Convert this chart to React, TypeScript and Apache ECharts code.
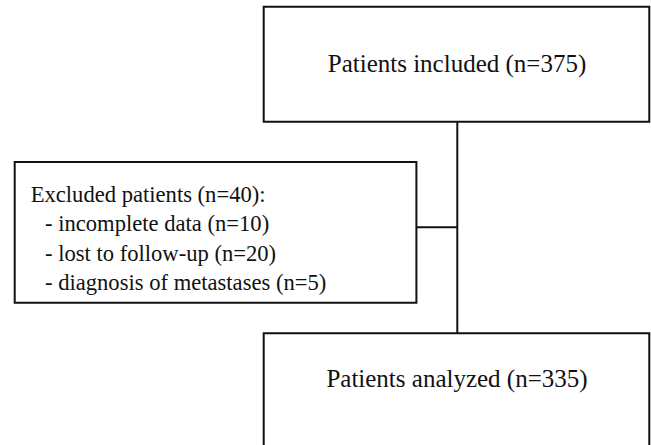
import React, { useEffect, useRef } from "react";
import * as echarts from "echarts";

// ---- data ----
const stageLabels = ["Patients included", "Patients analyzed"];
const stageCounts = [375, 335];
const excludedLabel = "Excluded patients";
const excludedCount = 40;
const exclusionReasons = ["incomplete data", "lost to follow-up", "diagnosis of metastases"];
const exclusionCounts = [10, 20, 5];

// ---- layout / style ----
const W = 651;
const H = 445;
const FONT = "Liberation Serif, Times New Roman, Times, serif";
const INK = "#111111";

export default function App() {
  const ref = useRef<HTMLDivElement>(null);

  useEffect(() => {
    const chart = echarts.init(ref.current!, null, { renderer: "svg", width: W, height: H });
    const boxStyle = { stroke: INK, lineWidth: 2, fill: "#ffffff" };
    const lineStyle = { stroke: INK, lineWidth: 2 };

    const stageText = stageLabels.map((l, i) => `${l} (n=${stageCounts[i]})`);
    const excludedLines = [
      `${excludedLabel} (n=${excludedCount}):`,
      ...exclusionReasons.map((r, i) => `- ${r} (n=${exclusionCounts[i]})`),
    ];
    const lineCenters = [194, 223.5, 253, 282.5];

    const graphic: any[] = [
      { type: "rect", shape: { x: 0, y: 0, width: W, height: H }, style: { fill: "#ffffff" }, z: 0 },
      // connectors
      { type: "line", shape: { x1: 457.3, y1: 122, x2: 457.3, y2: 333 }, style: lineStyle, z: 1 },
      { type: "line", shape: { x1: 416, y1: 227.3, x2: 457.3, y2: 227.3 }, style: lineStyle, z: 1 },
      // boxes
      { type: "rect", shape: { x: 263.7, y: 6.7, width: 385.6, height: 115 }, style: boxStyle, z: 2 },
      { type: "rect", shape: { x: 14.7, y: 162, width: 401.7, height: 140.7 }, style: boxStyle, z: 2 },
      { type: "rect", shape: { x: 263.7, y: 333.3, width: 385.6, height: 140 }, style: boxStyle, z: 2 },
      // texts
      {
        type: "text", x: 457, y: 63.2, z: 3,
        style: { text: stageText[0], fontFamily: FONT, fontSize: 25, fill: INK, align: "center", verticalAlign: "middle" },
      },
      {
        type: "text", x: 457, y: 378.5, z: 3,
        style: { text: stageText[1], fontFamily: FONT, fontSize: 25, fill: INK, align: "center", verticalAlign: "middle" },
      },
      ...excludedLines.map((t, i) => ({
        type: "text", x: i === 0 ? 30.7 : 45, y: lineCenters[i], z: 3,
        style: { text: t, fontFamily: FONT, fontSize: 22.6, fill: INK, align: "left", verticalAlign: "middle" },
      })),
    ];

    chart.setOption({ animation: false, backgroundColor: "#ffffff", graphic });
    return () => chart.dispose();
  }, []);

  return (
    <div
      ref={ref}
      style={{ position: "fixed", left: 0, top: 0, width: W, height: H, background: "#ffffff" }}
    />
  );
}
